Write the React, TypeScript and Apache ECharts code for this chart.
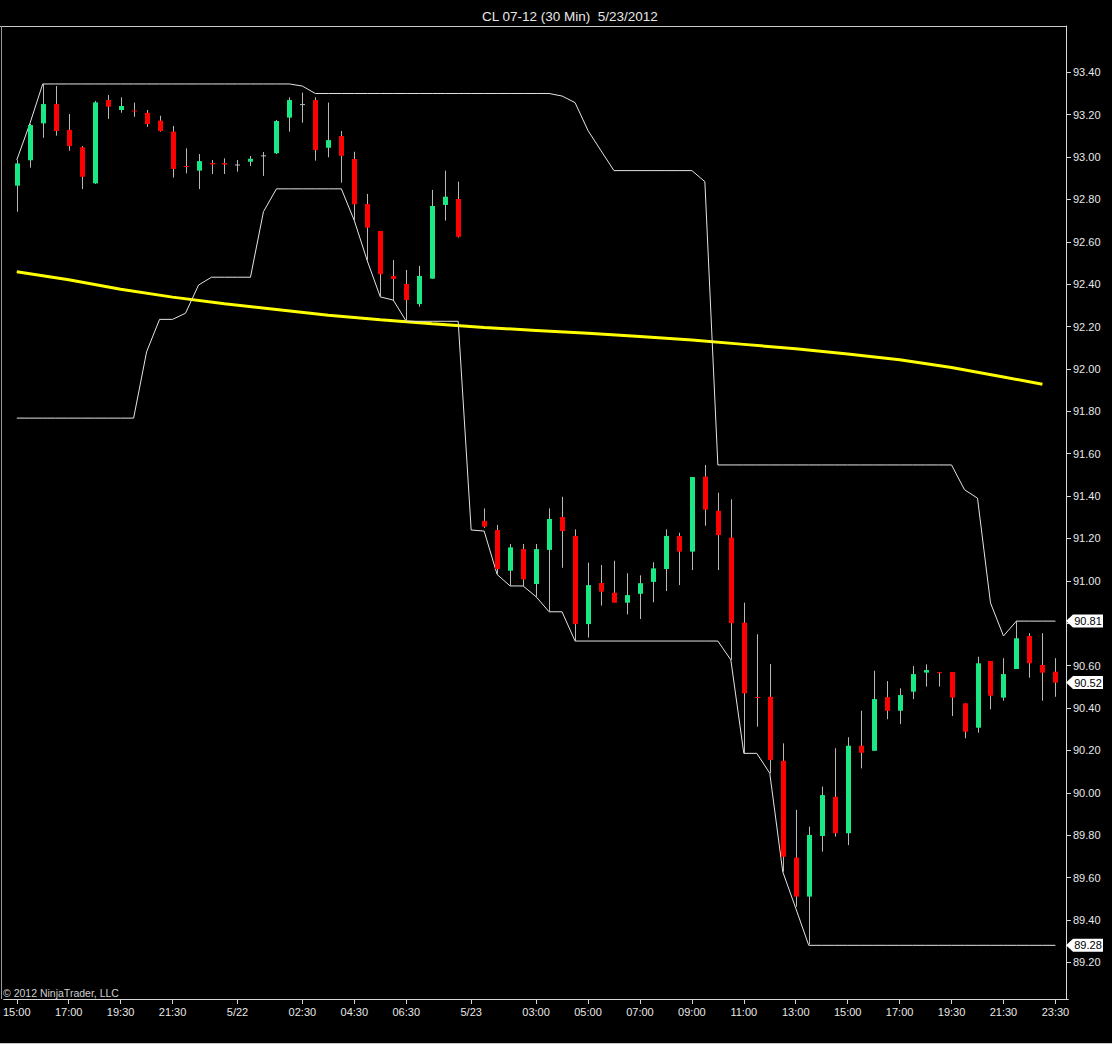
import React, { useEffect, useRef } from 'react';
import * as echarts from 'echarts';

// Tick labels of the time axis, by bar index (0 .. 80)
const timeTicks: Record<number, string> = {
  0: '15:00', 4: '17:00', 8: '19:30', 12: '21:30', 17: '5/22', 22: '02:30', 26: '04:30',
  30: '06:30', 35: '5/23', 40: '03:00', 44: '05:00', 48: '07:00', 52: '09:00', 56: '11:00',
  60: '13:00', 64: '15:00', 68: '17:00', 72: '19:30', 76: '21:30', 80: '23:30',
};
const BAR_COUNT = 81;

// OHLC of the 30 min bars (index 35 has no bar)
const opens = [
  92.865, 92.985, 93.159, 93.250, 93.128, 93.046, 92.876, 93.269, 93.222, 93.220,
  93.209, 93.172, 93.120, 92.958, 92.936, 92.972, 92.972, 92.965, 92.978, 93.008,
  93.018, 93.186, 93.250, 93.269, 93.044, 93.099, 92.991, 92.778, 92.651, 92.439,
  92.401, 92.306, 92.426, 92.774, 92.802, null, 91.283, 91.240, 91.048, 91.150,
  90.985, 91.146, 91.301, 91.212, 90.796, 90.990, 90.944, 90.897, 90.939, 90.995,
  91.056, 91.212, 91.138, 91.492, 91.331, 91.204, 90.803, 90.452, 90.453, 90.151,
  89.694, 89.510, 89.796, 89.981, 89.809, 90.222, 90.198, 90.451, 90.387, 90.477,
  90.567, 90.569, 90.570, 90.422, 90.307, 90.622, 90.449, 90.584, 90.740, 90.603,
  90.571,
];
const closes = [
  92.970, 93.151, 93.250, 93.123, 93.052, 92.907, 93.258, 93.238, 93.241, 93.215,
  93.156, 93.123, 92.944, 92.953, 92.981, 92.965, 92.965, 92.965, 92.992, 93.008,
  93.170, 93.269, 93.250, 93.033, 93.080, 93.006, 92.777, 92.667, 92.447, 92.425,
  92.325, 92.439, 92.769, 92.813, 92.624, null, 91.256, 91.056, 91.158, 91.007,
  91.150, 91.292, 91.235, 90.796, 90.980, 90.949, 90.897, 90.933, 90.989, 91.059,
  91.212, 91.138, 91.490, 91.336, 91.216, 90.800, 90.469, 90.447, 90.155, 89.698,
  89.510, 89.801, 89.989, 89.809, 90.222, 90.189, 90.442, 90.387, 90.461, 90.560,
  90.579, 90.566, 90.449, 90.288, 90.611, 90.458, 90.560, 90.729, 90.611, 90.567,
  90.520,
];
const lows = [
  92.742, 92.950, 93.091, 93.101, 93.030, 92.849, 92.873, 93.180, 93.209, 93.190,
  93.143, 93.120, 92.903, 92.923, 92.849, 92.920, 92.920, 92.931, 92.958, 92.911,
  93.014, 93.120, 93.162, 92.983, 92.999, 92.879, 92.700, 92.512, 92.341, 92.325,
  92.228, 92.294, 92.426, 92.700, 92.620, null, 91.250, 91.030, 90.976, 90.976,
  90.925, 90.854, 91.062, 90.716, 90.732, 90.883, 90.897, 90.842, 90.820, 90.899,
  90.952, 90.980, 91.051, 91.260, 91.051, 90.627, 90.186, 90.312, 90.092, 89.627,
  89.462, 89.285, 89.722, 89.793, 89.753, 90.115, 90.198, 90.347, 90.324, 90.442,
  90.501, 90.501, 90.362, 90.257, 90.283, 90.394, 90.434, 90.584, 90.543, 90.434,
  90.453,
];
const highs = [
  92.986, 93.156, 93.345, 93.335, 93.203, 93.052, 93.265, 93.293, 93.282, 93.257,
  93.222, 93.195, 93.147, 93.041, 93.014, 92.986, 92.994, 92.986, 93.005, 93.024,
  93.175, 93.282, 93.304, 93.282, 93.257, 93.123, 93.025, 92.826, 92.651, 92.514,
  92.467, 92.486, 92.845, 92.936, 92.884, null, 91.342, 91.264, 91.174, 91.174,
  91.174, 91.342, 91.397, 91.243, 91.086, 91.075, 91.095, 91.036, 91.026, 91.088,
  91.243, 91.227, 91.490, 91.547, 91.416, 91.385, 90.897, 90.748, 90.608, 90.233,
  89.919, 89.840, 90.029, 90.210, 90.262, 90.387, 90.576, 90.527, 90.493, 90.598,
  90.606, 90.569, 90.570, 90.422, 90.642, 90.622, 90.635, 90.812, 90.753, 90.753,
  90.635,
];

// Upper and lower channel lines
const upperBand = [
  92.986, 93.156, 93.345, 93.345, 93.345, 93.345, 93.345, 93.345, 93.345, 93.345,
  93.345, 93.345, 93.345, 93.345, 93.345, 93.345, 93.345, 93.345, 93.345, 93.345,
  93.345, 93.345, 93.335, 93.300, 93.300, 93.300, 93.300, 93.300, 93.300, 93.300,
  93.300, 93.300, 93.300, 93.300, 93.300, 93.300, 93.300, 93.300, 93.300, 93.300,
  93.300, 93.300, 93.288, 93.257, 93.125, 93.030, 92.936, 92.936, 92.936, 92.936,
  92.936, 92.936, 92.936, 92.884, 91.547, 91.547, 91.547, 91.547, 91.547, 91.547,
  91.547, 91.547, 91.547, 91.547, 91.547, 91.547, 91.547, 91.547, 91.547, 91.547,
  91.547, 91.547, 91.547, 91.430, 91.390, 90.896, 90.740, 90.810, 90.810, 90.810,
  90.810,
];
const lowerBand = [
  91.768, 91.768, 91.768, 91.768, 91.768, 91.768, 91.768, 91.768, 91.768, 91.768,
  92.081, 92.234, 92.234, 92.263, 92.396, 92.433, 92.433, 92.433, 92.433, 92.742,
  92.850, 92.850, 92.850, 92.850, 92.850, 92.850, 92.700, 92.510, 92.340, 92.325,
  92.225, 92.225, 92.225, 92.225, 92.225, 91.240, 91.235, 91.030, 90.976, 90.976,
  90.925, 90.854, 90.854, 90.716, 90.716, 90.716, 90.716, 90.716, 90.716, 90.716,
  90.716, 90.716, 90.716, 90.716, 90.716, 90.627, 90.186, 90.186, 90.092, 89.627,
  89.455, 89.280, 89.280, 89.280, 89.280, 89.280, 89.280, 89.280, 89.280, 89.280,
  89.280, 89.280, 89.280, 89.280, 89.280, 89.280, 89.280, 89.280, 89.280, 89.280,
  89.280,
];

// Yellow moving average, read at [bar index, value]
const maPoints: [number, number][] = [
  [0, 92.459], [4, 92.421], [8, 92.376], [12, 92.339], [16, 92.308], [20, 92.281],
  [24, 92.254], [28, 92.232], [32, 92.213], [36, 92.196], [40, 92.182], [44, 92.168],
  [48, 92.153], [52, 92.137], [56, 92.116], [60, 92.095], [64, 92.071], [68, 92.043],
  [72, 92.007], [76, 91.962], [79, 91.928],
];

const priceTicks = [
  89.2, 89.4, 89.6, 89.8, 90.0, 90.2, 90.4, 90.6, 90.8, 91.0, 91.2,
  91.4, 91.6, 91.8, 92.0, 92.2, 92.4, 92.6, 92.8, 93.0, 93.2, 93.4,
];
const priceMarkers = [90.81, 90.52, 89.28];

const UP = '#1ae884';
const DOWN = '#ff0000';
const WICK = '#b8b8b8';
const FONT = '"Liberation Sans", Arial, sans-serif';

export default function App() {
  const ref = useRef<HTMLDivElement>(null);

  useEffect(() => {
    if (!ref.current) return;
    const chart = echarts.init(ref.current, undefined, { renderer: 'svg' });

    // categories: one padding slot before and after the 81 bars
    const categories: string[] = [];
    for (let k = -1; k <= BAR_COUNT; k++) categories.push(String(k));
    const labelFor = (val: string) => timeTicks[Number(val)] ?? '';
    const hasLabel = (_i: number, val: string) => timeTicks[Number(val)] !== undefined;

    const candleData: number[][] = [];
    opens.forEach((o, i) => {
      if (o == null) return;
      candleData.push([i + 1, o, closes[i] as number, lows[i] as number, highs[i] as number]);
    });

    const pad = (arr: (number | null)[]) => [null, ...arr, null];
    const maArr: (number | null)[] = new Array(BAR_COUNT).fill(null);
    maPoints.forEach(([i, v]) => { maArr[i] = v; });

    chart.setOption({
      animation: false,
      backgroundColor: '#000000',
      textStyle: { fontFamily: FONT },
      title: {
        text: 'CL 07-12 (30 Min)  5/23/2012',
        left: 477,
        top: 4,
        textStyle: { color: '#e8e8e8', fontSize: 13.5, fontWeight: 'normal', fontFamily: FONT },
      },
      grid: { left: 1.29, top: 26, width: 1067.1, height: 973, containLabel: false },
      xAxis: {
        type: 'category',
        data: categories,
        boundaryGap: false,
        axisLine: { lineStyle: { color: '#d8d8d8', width: 1 } },
        axisTick: { show: true, interval: hasLabel, length: 5, lineStyle: { color: '#d8d8d8' } },
        axisLabel: {
          interval: hasLabel,
          formatter: labelFor,
          color: '#e8e8e8',
          fontSize: 11,
          fontFamily: FONT,
          margin: 7,
        },
        splitLine: { show: false },
      },
      yAxis: {
        type: 'value',
        position: 'right',
        offset: -2.4,
        min: 89.0267,
        max: 93.6185,
        scale: true,
        axisLine: { show: true, lineStyle: { color: '#d8d8d8', width: 1 } },
        axisTick: { show: true, length: 5, customValues: priceTicks, lineStyle: { color: '#d8d8d8' } },
        axisLabel: {
          customValues: priceTicks,
          formatter: (v: number) => v.toFixed(2),
          color: '#e8e8e8',
          fontSize: 11,
          fontFamily: FONT,
          margin: 7,
        },
        splitLine: { show: false },
      },
      series: [
        {
          type: 'line',
          name: 'MA',
          data: pad(maArr),
          connectNulls: true,
          showSymbol: false,
          symbol: 'none',
          lineStyle: { color: '#ffff00', width: 3 },
          z: 2,
          silent: true,
        },
        {
          type: 'line',
          name: 'Upper',
          data: pad(upperBand),
          showSymbol: false,
          symbol: 'none',
          lineStyle: { color: '#e4e4e4', width: 1 },
          z: 3,
          silent: true,
        },
        {
          type: 'line',
          name: 'Lower',
          data: pad(lowerBand),
          showSymbol: false,
          symbol: 'none',
          lineStyle: { color: '#e4e4e4', width: 1 },
          z: 3,
          silent: true,
        },
        {
          type: 'custom',
          name: 'CL',
          data: candleData,
          encode: { x: 0, y: [1, 2, 3, 4] },
          z: 4,
          silent: true,
          renderItem: (_params: any, api: any) => {
            const x = api.value(0);
            const o = api.value(1);
            const c = api.value(2);
            const l = api.value(3);
            const h = api.value(4);
            const pO = api.coord([x, o]);
            const pC = api.coord([x, c]);
            const pL = api.coord([x, l]);
            const pH = api.coord([x, h]);
            const cx = Math.round(pO[0]) + 0.5;
            const top = Math.min(pO[1], pC[1]);
            const bh = Math.max(1, Math.abs(pO[1] - pC[1]));
            const color = c > o ? UP : c < o ? DOWN : WICK;
            return {
              type: 'group',
              children: [
                {
                  type: 'line',
                  shape: { x1: cx, y1: pH[1], x2: cx, y2: pL[1] },
                  style: { stroke: WICK, lineWidth: 1 },
                },
                {
                  type: 'rect',
                  shape: { x: cx - 2.5, y: top, width: 5, height: bh },
                  style: { fill: color },
                },
              ],
            };
          },
        },
      ],
    });

    const axisX = 1066;
    const markers = priceMarkers.map((v) => {
      const y = chart.convertToPixel({ yAxisIndex: 0 }, v) as number;
      return {
        type: 'group',
        z: 100,
        children: [
          {
            type: 'polygon',
            z: 100,
            shape: {
              points: [
                [axisX, y], [axisX + 7, y - 6.5], [axisX + 37, y - 6.5],
                [axisX + 37, y + 6.5], [axisX + 7, y + 6.5],
              ],
            },
            style: { fill: '#ffffff' },
          },
          {
            type: 'text',
            z: 101,
            x: axisX + 22,
            y,
            style: {
              text: v.toFixed(2),
              fill: '#000000',
              fontSize: 11,
              fontFamily: FONT,
              align: 'center',
              verticalAlign: 'middle',
            },
          },
        ],
      };
    });

    chart.setOption({
      graphic: [
        {
          type: 'line',
          z: 50,
          shape: { x1: 0, y1: 26.5, x2: 1066, y2: 26.5 },
          style: { stroke: '#c8c8c8', lineWidth: 1 },
        },
        {
          type: 'line',
          z: 50,
          shape: { x1: 1.5, y1: 26, x2: 1.5, y2: 999 },
          style: { stroke: '#9a9a9a', lineWidth: 1 },
        },
        {
          type: 'line',
          z: 50,
          shape: { x1: 0, y1: 1043.5, x2: 1112, y2: 1043.5 },
          style: { stroke: '#c8c8c8', lineWidth: 1 },
        },
        {
          type: 'text',
          z: 50,
          x: 3,
          y: 993,
          style: {
            text: '© 2012 NinjaTrader, LLC',
            fill: '#d0d0d0',
            fontSize: 10.5,
            fontFamily: FONT,
            verticalAlign: 'middle',
          },
        },
        ...markers,
      ],
    });

    return () => chart.dispose();
  }, []);

  return (
    <div
      ref={ref}
      style={{ position: 'fixed', left: 0, top: 0, width: 1112, height: 1044, background: '#000' }}
    />
  );
}
